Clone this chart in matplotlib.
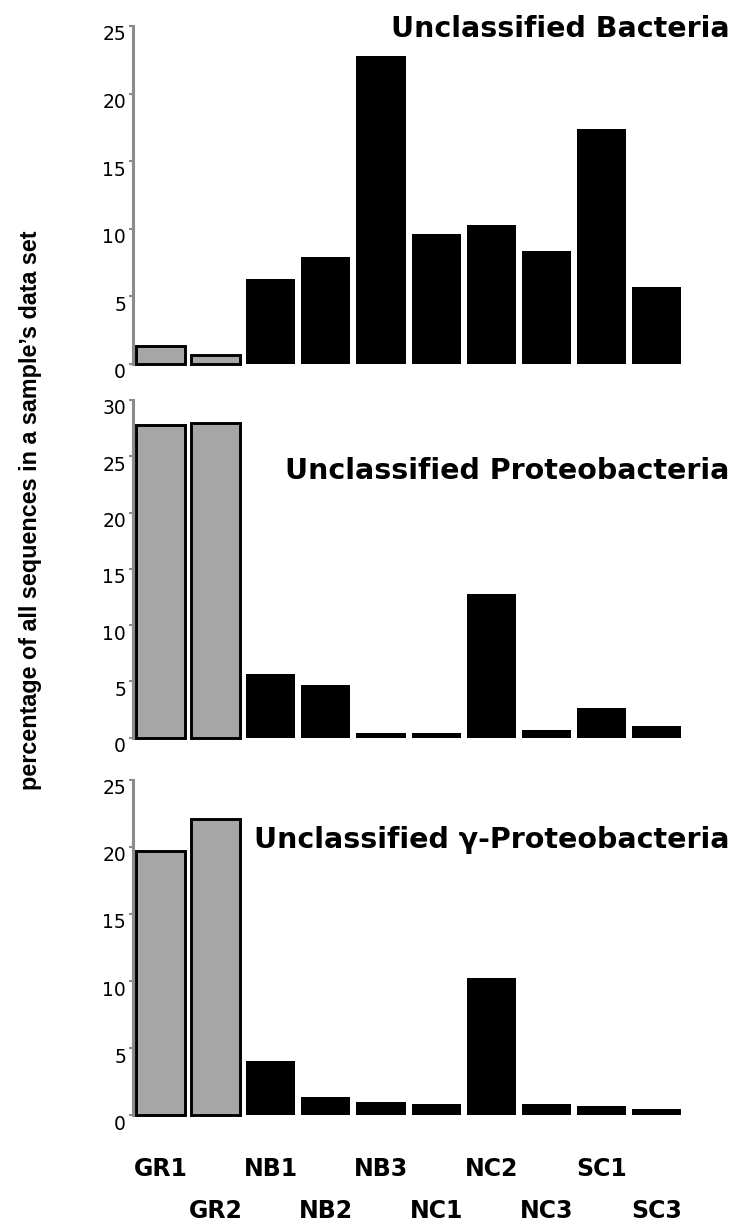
import matplotlib
matplotlib.use("Agg")
import matplotlib.pyplot as plt
from matplotlib.transforms import ScaledTranslation
import numpy as np

# sample names and percentages
samples = ["GR1", "GR2", "NB1", "NB2", "NB3", "NC1", "NC2", "NC3", "SC1", "SC3"]
bacteria = [1.3, 0.65, 6.3, 7.95, 22.8, 9.6, 10.25, 8.35, 17.4, 5.7]
proteo = [27.8, 28.0, 5.65, 4.7, 0.45, 0.45, 12.8, 0.65, 2.6, 1.0]
gamma = [19.65, 22.05, 4.05, 1.35, 1.0, 0.82, 10.2, 0.82, 0.7, 0.45]

titles = ["Unclassified Bacteria", "Unclassified Proteobacteria",
          "Unclassified \u03b3-Proteobacteria"]
ylims = [25, 30, 25]
ylabel = "percentage of all sequences in a sample\u2019s data set"

grey = "#a6a6a6"
axis_grey = "#8c8c8c"

fig = plt.figure(figsize=(7.35, 12.27), dpi=100)

# axes boxes in figure fractions (left, bottom, width, height)
boxes = [(0.181, 0.7033, 0.7497, 0.2755),
         (0.181, 0.3988, 0.7497, 0.2752),
         (0.181, 0.0909, 0.7497, 0.2738)]
# title baselines (figure fraction)
title_y = [0.970, 0.610, 0.3087]

x = np.arange(len(samples))
is_gr = [s.startswith("GR") for s in samples]
colors = [grey if g else "black" for g in is_gr]
widths = [2.1 if g else 0 for g in is_gr]

for box, vals, ymax, title, ty in zip(boxes, [bacteria, proteo, gamma], ylims, titles, title_y):
    ax = fig.add_axes(box)
    ax.bar(x, vals, width=0.89, color=colors, edgecolor="black",
           linewidth=widths, clip_on=False, zorder=3)
    ax.set_xlim(-0.5, 9.5)
    ax.set_ylim(0, ymax)
    ax.set_yticks(np.arange(0, ymax + 1, 5))
    for side in ["top", "right", "bottom"]:
        ax.spines[side].set_visible(False)
    ax.spines["left"].set_color(axis_grey)
    ax.spines["left"].set_linewidth(2.2)
    ax.tick_params(axis="y", colors=axis_grey, length=3, width=1.5, pad=2,
                   labelsize=13.5, labelcolor="black")
    ax.set_xticks([])
    off = ScaledTranslation(0, -5 / 72, fig.dpi_scale_trans)
    for lab in ax.get_yticklabels():
        lab.set_transform(lab.get_transform() + off)
    fig.text(0.993, ty, title, ha="right", va="baseline",
             fontsize=20.5, fontweight="bold", family="DejaVu Sans")

# staggered sample labels under the bottom panel
for i, s in enumerate(samples):
    yy = -0.158 if i % 2 == 0 else -0.283
    ax.text(i, yy, s, transform=ax.get_xaxis_transform(), ha="center",
            va="center", fontsize=17, fontweight="bold")

fig.text(0.041, 0.584, ylabel, rotation=90, ha="center", va="center",
         fontsize=16.8, fontweight="bold", family="Liberation Sans")

fig.savefig("out.png", dpi=100)
